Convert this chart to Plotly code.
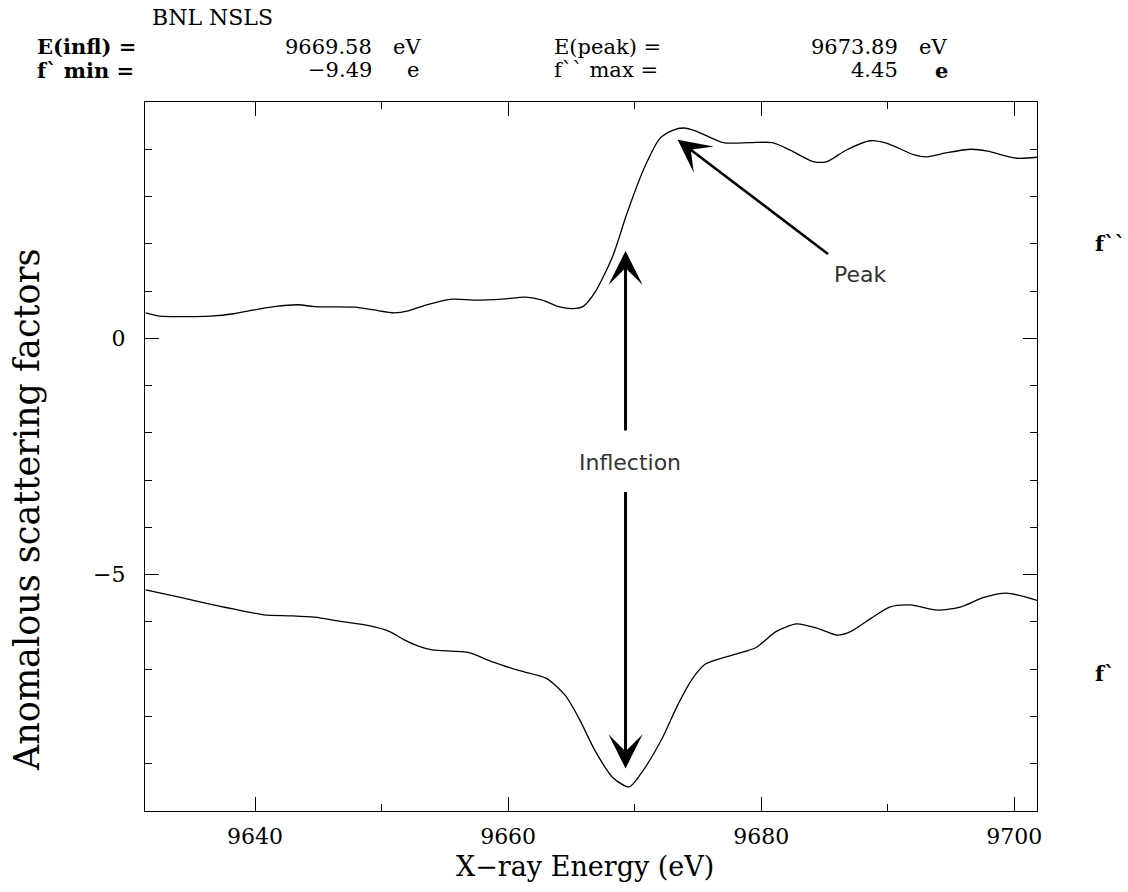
import plotly.graph_objects as go

# ---------------- data ----------------
energy_fpp = [9631.35, 9632.5, 9634.0, 9636.5, 9638.3, 9639.9, 9641.5, 9643.4, 9644.7,
              9647.9, 9649.4, 9651.0, 9652.1, 9653.7, 9655.6, 9657.4, 9659.5, 9661.4,
              9662.7, 9664.0, 9665.1, 9665.9, 9666.9, 9668.3, 9669.4, 9670.8, 9672.0,
              9673.0, 9673.89, 9674.8, 9677.0, 9679.1, 9680.9, 9682.3, 9684.1, 9685.2,
              9686.7, 9688.6, 9689.9, 9692.1, 9693.1, 9694.7, 9696.6, 9697.9, 9700.2,
              9702.1]
f_double_prime = [0.54, 0.47, 0.46, 0.47, 0.52, 0.60, 0.67, 0.71, 0.67,
                  0.66, 0.60, 0.54, 0.58, 0.72, 0.83, 0.81, 0.83, 0.87,
                  0.81, 0.67, 0.63, 0.67, 0.99, 1.76, 2.65, 3.63, 4.23,
                  4.40, 4.45, 4.39, 4.14, 4.14, 4.14, 3.98, 3.74, 3.74,
                  3.98, 4.18, 4.13, 3.88, 3.84, 3.93, 4.00, 3.96, 3.81,
                  3.84]

energy_fp = [9631.35, 9634.1, 9636.7, 9638.9, 9640.7, 9642.9, 9644.7, 9646.8, 9649.0,
             9650.6, 9651.8, 9652.9, 9654.0, 9656.9, 9658.7, 9660.9, 9663.0, 9664.5,
             9665.6, 9666.9, 9668.3, 9669.58, 9670.6, 9672.2, 9673.4, 9674.6, 9675.6,
             9678.0, 9679.6, 9681.2, 9682.8, 9684.4, 9686.0, 9687.1, 9688.7, 9690.2,
             9691.8, 9693.9, 9695.8, 9697.6, 9699.4, 9701.0, 9702.1]
f_prime = [-5.32, -5.48, -5.64, -5.76, -5.85, -5.87, -5.90, -5.99, -6.08,
           -6.20, -6.38, -6.51, -6.59, -6.65, -6.84, -7.03, -7.19, -7.55,
           -8.04, -8.74, -9.30, -9.49, -9.17, -8.45, -7.76, -7.19, -6.89,
           -6.68, -6.54, -6.20, -6.04, -6.13, -6.28, -6.20, -5.92, -5.68,
           -5.64, -5.75, -5.68, -5.48, -5.39, -5.48, -5.57]

x_tick_vals = [9640, 9660, 9680, 9700]
x_tick_text = ["9640", "9660", "9680", "9700"]
y_tick_vals = [-10, -5, 0, 5]
y_tick_text = ["", "\u22125", "0", ""]

E_infl = 9669.58
E_peak = 9673.89
fp_min = -9.49
fpp_max = 4.45

# ---------------- figure ----------------
SERIF = "DejaVu Serif"
SANS = "DejaVu Sans"

fig = go.Figure()
fig.add_trace(go.Scatter(x=energy_fpp, y=f_double_prime, mode="lines",
                         line=dict(color="black", width=1.3, shape="spline", smoothing=0.7),
                         showlegend=False, hoverinfo="skip"))
fig.add_trace(go.Scatter(x=energy_fp, y=f_prime, mode="lines",
                         line=dict(color="black", width=1.3, shape="spline", smoothing=0.7),
                         showlegend=False, hoverinfo="skip"))

axis_common = dict(showline=True, linecolor="black", linewidth=1.4, mirror="allticks",
                   ticks="inside", ticklen=14, tickwidth=1.3, tickcolor="black",
                   showgrid=False, zeroline=False,
                   tickfont=dict(family=SERIF, size=22, color="black"))

fig.update_xaxes(range=[9631.3, 9701.8], tickmode="array", tickvals=x_tick_vals,
                 ticktext=x_tick_text, ticklabelstandoff=5,
                 minor=dict(ticks="inside", dtick=10, tick0=9630, ticklen=7,
                            tickwidth=1.3, tickcolor="black"),
                 **axis_common)
fig.update_yaxes(range=[-10, 5], tickmode="array", tickvals=y_tick_vals,
                 ticktext=y_tick_text, ticklabelstandoff=14,
                 minor=dict(ticks="inside", dtick=1, tick0=0, ticklen=7,
                            tickwidth=1.3, tickcolor="black"),
                 **axis_common)

W, H = 1128, 892
L, R, T, B = 145, 91, 102, 81
pw, ph = W - L - R, H - T - B


def px(xp):
    return (xp - L) / pw


def py(yp):
    return (H - B - yp) / ph


ann = []


def text(t, xp, yp, size=21, xanchor="left", family=SERIF, bold=False, color="black"):
    ann.append(dict(text=f"<b>{t}</b>" if bold else t, x=px(xp), y=py(yp),
                    xref="paper", yref="paper", xanchor=xanchor, yanchor="middle",
                    showarrow=False, font=dict(family=family, size=size, color=color)))


HS = 21  # header font size
# header
text("BNL NSLS", 150, 18, size=22)
text("E(infl) =", 35, 47, size=HS, bold=True)
text(f"{E_infl:.2f}", 374, 47, size=HS, xanchor="right")
text("eV", 391, 47, size=HS)
text("f` min =", 35, 70, size=HS, bold=True)
text(f"\u2212{abs(fp_min):.2f}", 374, 70, size=HS, xanchor="right")
text("e", 405, 70, size=HS)
text("E(peak) =", 552, 47, size=HS)
text(f"{E_peak:.2f}", 900, 47, size=HS, xanchor="right")
text("eV", 917, 47, size=HS)
text("f`` max =", 552, 70, size=HS)
text(f"{fpp_max:.2f}", 900, 70, size=HS, xanchor="right")
text("e", 933, 70, size=HS, bold=True)

# right-hand curve labels
text("f``", 1093, 243, size=21, bold=True)
text("f`", 1093, 673, size=21, bold=True)

# axis titles
ann.append(dict(text="X\u2212ray Energy (eV)", x=px(585), y=py(866), xref="paper", yref="paper",
                xanchor="center", yanchor="middle", showarrow=False,
                font=dict(family=SERIF, size=27, color="black")))
ann.append(dict(text="Anomalous scattering factors", x=px(27), y=py(510), xref="paper",
                yref="paper", xanchor="center", yanchor="middle", textangle=-90,
                showarrow=False, font=dict(family=SERIF, size=35, color="black")))

# arrows
arrow_style = dict(showarrow=True, arrowhead=3, arrowwidth=3, arrowsize=1.9,
                   arrowcolor="black", text="", axref="x", ayref="y", xref="x", yref="y")
ann.append(dict(x=E_infl - 0.3, y=1.85, ax=E_infl - 0.3, ay=-1.98, **arrow_style))
ann.append(dict(x=E_infl - 0.3, y=-9.1, ax=E_infl - 0.3, ay=-3.22, **arrow_style))
ann.append(dict(x=9673.4, y=4.2, ax=9685.4, ay=1.76,
                **dict(arrow_style, arrowwidth=2.6, arrowsize=2.1)))

ann.append(dict(text="Peak", x=9687.8, y=1.36, xref="x", yref="y", showarrow=False,
                xanchor="center", yanchor="middle",
                font=dict(family=SANS, size=22, color="#333333")))
ann.append(dict(text="Inflection", x=9669.6, y=-2.62, xref="x", yref="y", showarrow=False,
                xanchor="center", yanchor="middle",
                font=dict(family=SANS, size=22, color="#333333")))

fig.update_layout(width=W, height=H, autosize=False,
                  margin=dict(l=L, r=R, t=T, b=B, pad=0),
                  paper_bgcolor="white", plot_bgcolor="white",
                  annotations=ann, showlegend=False)

fig.write_html("out.html")
